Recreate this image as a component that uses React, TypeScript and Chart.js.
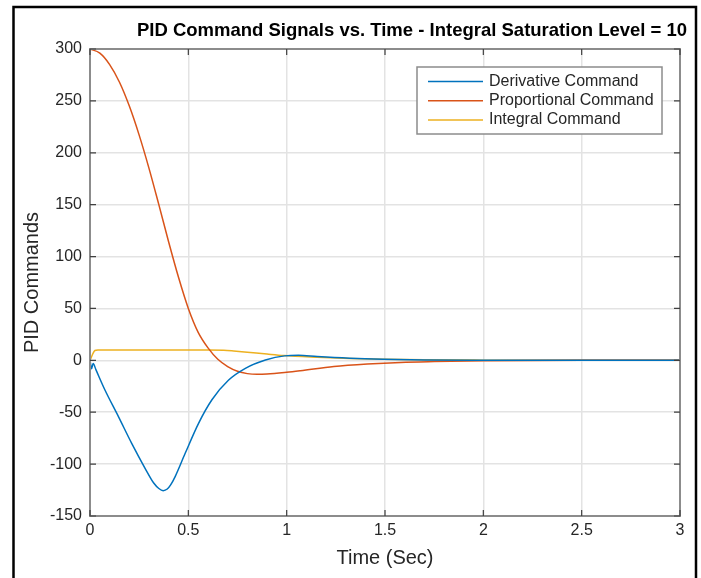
import React, { useEffect, useRef } from "react";
import { Chart, registerables } from "chart.js";

Chart.register(...registerables);

const chartTitle = "PID Command Signals vs. Time - Integral Saturation Level = 10";
const xAxisLabel = "Time (Sec)";
const yAxisLabel = "PID Commands";
const seriesNames = ["Derivative Command", "Proportional Command", "Integral Command"];
const seriesColors = ["#0072BD", "#D95319", "#EDB120"];

const xTickValues = [0, 0.5, 1, 1.5, 2, 2.5, 3];
const xTickLabels = ["0", "0.5", "1", "1.5", "2", "2.5", "3"];
const yTickValues = [-150, -100, -50, 0, 50, 100, 150, 200, 250, 300];

const derivativeTime = [0, 0.008, 0.016, 0.03, 0.076, 0.144, 0.212, 0.28, 0.325, 0.35, 0.372, 0.393, 0.41, 0.433, 0.484, 0.552, 0.62, 0.705, 0.79, 0.892, 0.99, 1.06, 1.155, 1.32, 1.49, 1.7, 2.0, 2.5, 3.0];
const derivativeValues = [0, -8, -3, -9, -28.6, -54, -80, -104, -118.5, -123.5, -125.6, -124, -120, -112, -89.6, -60.7, -38, -19, -7.7, 0.3, 4.3, 4.8, 3.6, 2, 1, 0.4, 0.1, 0, 0];

const proportionalTime = [0, 0.05, 0.1, 0.15, 0.2, 0.25, 0.3, 0.35, 0.4, 0.45, 0.5, 0.55, 0.6, 0.65, 0.7, 0.75, 0.8, 0.85, 0.9, 1.0, 1.07, 1.24, 1.41, 1.58, 1.75, 2.0, 2.5, 3.0];
const proportionalValues = [300, 296, 285, 268, 245, 217, 185, 150, 114, 80, 50, 27, 12, 1, -6, -10.5, -12.8, -13.5, -13.2, -11.5, -10, -6, -3.6, -2, -1.2, -0.4, 0, 0];

const integralTime = [0, 0.025, 0.04, 0.6, 0.68, 0.73, 0.8, 0.9, 0.985, 1.155, 1.32, 1.49, 1.7, 2.0, 2.5, 3.0];
const integralValues = [0, 9.5, 10, 10, 9.7, 9, 7.8, 6, 4.6, 3, 1.8, 1, 0.5, 0.2, 0, 0];

const FONT = "'Liberation Sans', Arial, Helvetica, sans-serif";

const toPoints = (ts: number[], vs: number[]) => ts.map((t, i) => ({ x: t, y: vs[i] }));

const decorPlugin = {
  id: "decor",
  afterDraw(chart: any) {
    const { ctx, chartArea: a, scales } = chart;
    const xs = scales.x;
    const ys = scales.y;
    ctx.save();

    // axes box
    ctx.strokeStyle = "#8c8c8c";
    ctx.lineWidth = 2;
    ctx.strokeRect(a.left, a.top, a.right - a.left, a.bottom - a.top);

    // inward ticks on all sides
    ctx.strokeStyle = "#404040";
    ctx.lineWidth = 1.2;
    ctx.beginPath();
    xTickValues.forEach((v) => {
      const px = xs.getPixelForValue(v);
      ctx.moveTo(px, a.bottom);
      ctx.lineTo(px, a.bottom - 6);
      ctx.moveTo(px, a.top);
      ctx.lineTo(px, a.top + 6);
    });
    yTickValues.forEach((v) => {
      const py = ys.getPixelForValue(v);
      ctx.moveTo(a.left, py);
      ctx.lineTo(a.left + 6, py);
      ctx.moveTo(a.right, py);
      ctx.lineTo(a.right - 6, py);
    });
    ctx.stroke();

    // legend
    const lx = 417, ly = 67, lw = 245, lh = 67;
    ctx.fillStyle = "#ffffff";
    ctx.fillRect(lx, ly, lw, lh);
    ctx.strokeStyle = "#8c8c8c";
    ctx.lineWidth = 1.5;
    ctx.strokeRect(lx, ly, lw, lh);
    ctx.font = `16px ${FONT}`;
    ctx.textBaseline = "middle";
    ctx.textAlign = "left";
    chart.data.datasets.forEach((ds: any, i: number) => {
      const yy = 81.5 + i * 19.2;
      ctx.strokeStyle = ds.borderColor;
      ctx.lineWidth = 1.5;
      ctx.beginPath();
      ctx.moveTo(428, yy);
      ctx.lineTo(483, yy);
      ctx.stroke();
      ctx.fillStyle = "#262626";
      ctx.fillText(ds.label, 489, yy);
    });

    // title
    ctx.fillStyle = "#000000";
    ctx.font = `bold 18.5px ${FONT}`;
    ctx.textAlign = "center";
    ctx.textBaseline = "alphabetic";
    ctx.fillText(chartTitle, 412, 36);

    // axis titles
    ctx.fillStyle = "#262626";
    ctx.font = `20px ${FONT}`;
    ctx.fillText(xAxisLabel, (a.left + a.right) / 2, 564);
    ctx.save();
    ctx.translate(38, (a.top + a.bottom) / 2);
    ctx.rotate(-Math.PI / 2);
    ctx.fillText(yAxisLabel, 0, 0);
    ctx.restore();

    // outer frame
    ctx.strokeStyle = "#000000";
    ctx.lineWidth = 2.5;
    ctx.beginPath();
    ctx.moveTo(13.5, 580);
    ctx.lineTo(13.5, 7);
    ctx.lineTo(696, 7);
    ctx.lineTo(696, 580);
    ctx.stroke();

    ctx.restore();
  },
};

export default function App() {
  const canvasRef = useRef<HTMLCanvasElement | null>(null);

  useEffect(() => {
    const canvas = canvasRef.current;
    if (!canvas) return;
    const seriesData = [
      toPoints(derivativeTime, derivativeValues),
      toPoints(proportionalTime, proportionalValues),
      toPoints(integralTime, integralValues),
    ];
    const chart = new Chart(canvas, {
      type: "line",
      data: {
        datasets: seriesData.map((d, i) => ({
          label: seriesNames[i],
          data: d,
          borderColor: seriesColors[i],
          backgroundColor: seriesColors[i],
          borderWidth: 1.5,
          pointRadius: 0,
          fill: false,
          cubicInterpolationMode: "monotone" as const,
        })),
      },
      options: {
        responsive: false,
        animation: false,
        devicePixelRatio: 1,
        layout: { padding: { left: 0, top: 49, right: 21, bottom: 0 } },
        plugins: {
          legend: { display: false },
          title: { display: false },
          tooltip: { enabled: false },
        },
        scales: {
          x: {
            type: "linear",
            min: 0,
            max: 3,
            afterBuildTicks: (scale: any) => {
              scale.ticks = xTickValues.map((v) => ({ value: v }));
            },
            afterFit: (scale: any) => {
              scale.height = 62;
            },
            ticks: {
              font: { family: FONT, size: 16 },
              color: "#262626",
              padding: 5,
              maxRotation: 0,
              autoSkip: false,
              callback: (v: any) => xTickLabels[xTickValues.indexOf(Number(v))] ?? "",
            },
            grid: { color: "#e3e3e3", lineWidth: 1.5, drawTicks: false },
            border: { display: false },
          },
          y: {
            type: "linear",
            min: -150,
            max: 300,
            afterBuildTicks: (scale: any) => {
              scale.ticks = yTickValues.map((v) => ({ value: v }));
            },
            afterFit: (scale: any) => {
              scale.width = 90;
            },
            ticks: {
              font: { family: FONT, size: 16 },
              color: "#262626",
              padding: 8,
              autoSkip: false,
              callback: (v: any) => String(v),
            },
            grid: { color: "#e3e3e3", lineWidth: 1.5, drawTicks: false },
            border: { display: false },
          },
        },
      },
      plugins: [decorPlugin],
    });
    return () => chart.destroy();
  }, []);

  return (
    <div style={{ position: "fixed", left: 0, top: 0, width: 701, height: 578, background: "#ffffff" }}>
      <canvas ref={canvasRef} width={701} height={578} style={{ display: "block", width: 701, height: 578 }} />
    </div>
  );
}
